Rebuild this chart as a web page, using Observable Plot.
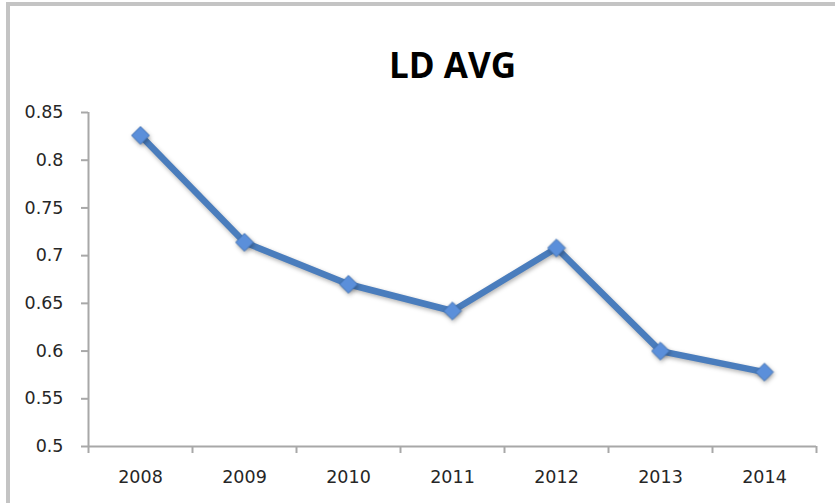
<!DOCTYPE html>
<html>
<head>
<meta charset="utf-8">
<script src="https://cdn.jsdelivr.net/npm/d3@7"></script>
<script src="https://cdn.jsdelivr.net/npm/@observablehq/plot@0.6"></script>
<style>
  html, body { margin: 0; padding: 0; background: #fff; }
  #wrap { position: relative; width: 835px; height: 503px; overflow: hidden; }
  #frame { position: absolute; left: 6px; top: 2px; width: 840px; height: 498px;
           border-left: 4px solid #c4c4c4; border-top: 4px solid #c4c4c4; border-bottom: 1px solid #e4e4e4; }
  #title { position: absolute; left: 87px; width: 731px; top: 40px; text-align: center;
           font-family: "Open Sans", sans-serif; font-weight: 700; font-size: 35px; color: #000; line-height: 50px; }
  #chart { position: absolute; left: 0; top: 0; }
  #chart svg text { font-family: "DejaVu Sans", sans-serif !important; font-size: 17.5px !important; }
  .line-shadow { filter: drop-shadow(1px 2px 2px rgba(0,0,0,0.3)); }
</style>
</head>
<body>
<div id="wrap">
  <div id="frame"></div>
  <div id="chart"></div>
  <div id="title">LD AVG</div>
</div>
<script>
const years = [2008, 2009, 2010, 2011, 2012, 2013, 2014];
const ldAvg = [0.826, 0.714, 0.670, 0.642, 0.708, 0.600, 0.578];
const yTicks = [0.5, 0.55, 0.6, 0.65, 0.7, 0.75, 0.8, 0.85];

const data = years.map((year, i) => ({year, value: ldAvg[i]}));
const xDomain = [d3.min(years) - 0.5, d3.max(years) + 0.5];
const bandEdges = d3.range(xDomain[0], xDomain[1] + 0.01, 1);
const axisColor = "#a8a8a8";
const textColor = "#262626";

const chart = Plot.plot({
  width: 835,
  height: 503,
  marginTop: 112,
  marginBottom: 57,
  marginLeft: 88,
  marginRight: 19,
  style: { fontFamily: "'DejaVu Sans', sans-serif", fontSize: "17.5px", color: textColor, background: "transparent" },
  x: { domain: xDomain, label: null },
  y: { domain: [0.5, 0.85], label: null },
  marks: [
    Plot.axisY({ticks: yTicks, tickFormat: d => String(d), tickSize: 7, tickPadding: 18, stroke: axisColor, strokeWidth: 2, label: null, fill: textColor}),
    Plot.ruleX([xDomain[0]], {stroke: axisColor, strokeWidth: 2}),
    Plot.ruleY([0.5], {stroke: axisColor, strokeWidth: 2}),
    Plot.axisX({ticks: bandEdges, tickSize: 7, tickFormat: () => "", stroke: axisColor, strokeWidth: 2, label: null}),
    Plot.axisX({ticks: years, tickSize: 0, tickPadding: 24, tickFormat: d => String(d), label: null, fill: textColor}),
    Plot.line(data, {x: "year", y: "value", stroke: "#4a7dbd", strokeWidth: 6.5, className: "line-shadow"}),
    Plot.dot(data, {x: "year", y: "value", symbol: "diamond2", r: 8, fill: "#5b8fda", stroke: "#4273b5", strokeWidth: 1, className: "line-shadow"})
  ]
});
document.getElementById("chart").appendChild(chart);
</script>
</body>
</html>
